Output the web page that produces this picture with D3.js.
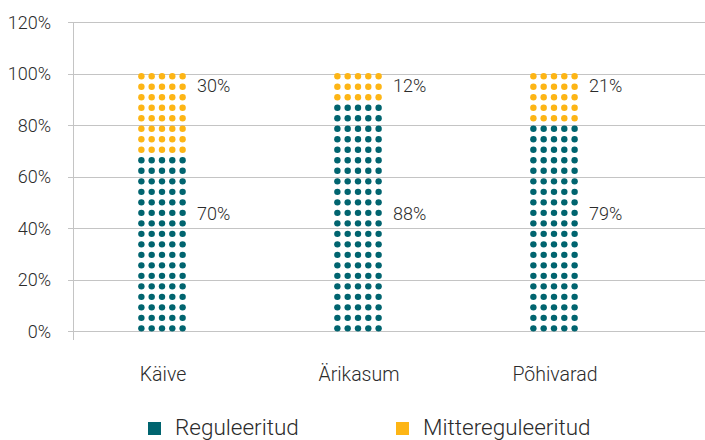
<!DOCTYPE html>
<html><head><meta charset="utf-8">
<script src="https://cdn.jsdelivr.net/npm/d3@7"></script>
<style>body{margin:0;background:#fff}svg{display:block}text{font-family:Roboto,"Noto Sans",sans-serif;fill:#2b2b2b}</style>
</head><body>
<svg id="c" width="705" height="440"></svg>
<script>
const categories = ["Käive", "Ärikasum", "Põhivarad"];
const regulated = [70, 88, 79];
const unregulated = [30, 12, 21];
const yTicks = [0, 20, 40, 60, 80, 100, 120];
const seriesNames = ["Reguleeritud", "Mittereguleeritud"];
const colors = ["#00646f", "#fdb515"];

const svg = d3.select("#c");
const y = d3.scaleLinear().domain([0, 120]).range([331, 22.2]);
const x = d3.scaleBand().domain(categories).range([64, 652]).paddingInner(0.737).paddingOuter(0.3685);
const axisX = 73;

// gridlines
svg.append("g").selectAll("line").data(yTicks).join("line")
  .attr("x1", axisX - 5).attr("x2", 705)
  .attr("y1", d => Math.round(y(d)) + 0.5).attr("y2", d => Math.round(y(d)) + 0.5)
  .attr("stroke", "#c4c4c4").attr("stroke-width", 1);
// vertical axis line
svg.append("line").attr("x1", axisX + 0.5).attr("x2", axisX + 0.5)
  .attr("y1", y(120)).attr("y2", y(0) + 9).attr("stroke", "#c4c4c4");
// tick labels
svg.append("g").selectAll("text").data(yTicks).join("text")
  .attr("x", 51).attr("y", d => y(d) + 6.5).attr("text-anchor", "end")
  .attr("font-size", 18).attr("font-weight", 300).text(d => d + "%");

// dots
const rows = d3.range(25);
const cols = d3.range(5);
const rowY = d3.scalePoint().domain(rows).range([y(0), y(100)]).padding(0.25);
const step = 100 / rows.length;
categories.forEach((c, i) => {
  const colX = d3.scalePoint().domain(cols).range([x(c), x(c) + x.bandwidth()]).padding(0.5);
  const dots = [];
  rows.forEach(r => cols.forEach(k => dots.push({r, k, reg: (r + 0.5) * step < regulated[i]})));
  svg.append("g").selectAll("circle").data(dots).join("circle")
    .attr("cx", d => colX(d.k)).attr("cy", d => rowY(d.r)).attr("r", 3.2)
    .attr("fill", d => d.reg ? colors[0] : colors[1]);
  // value labels
  svg.append("text").attr("x", x(c) + x.bandwidth() / 2 + 35).attr("y", y(43))
    .attr("font-size", 18).attr("font-weight", 300).text(regulated[i] + "%");
  svg.append("text").attr("x", x(c) + x.bandwidth() / 2 + 35).attr("y", y(92.8))
    .attr("font-size", 18).attr("font-weight", 300).text(unregulated[i] + "%");
  // category labels
  svg.append("text").attr("x", x(c) + x.bandwidth() / 2 + 1).attr("y", 381)
    .attr("text-anchor", "middle").attr("font-size", 19.5).attr("font-weight", 300).text(c);
});

// legend
const legX = [148, 396];
seriesNames.forEach((n, i) => {
  svg.append("rect").attr("x", legX[i]).attr("y", 422).attr("width", 13).attr("height", 13).attr("fill", colors[i]);
  svg.append("text").attr("x", legX[i] + 27).attr("y", 434.5).attr("font-size", 22.5).attr("font-weight", 300).text(n);
});
</script>
</body></html>
